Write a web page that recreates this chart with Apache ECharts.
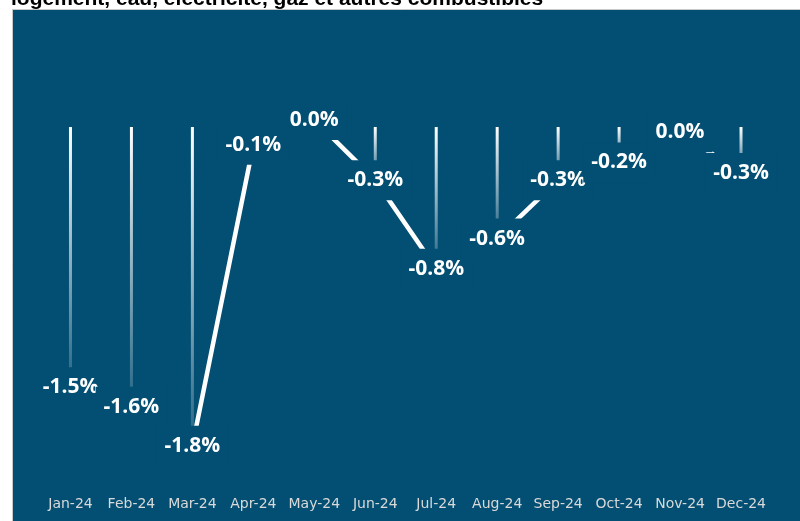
<!DOCTYPE html>
<html>
<head>
<meta charset="utf-8">
<script src="https://cdn.jsdelivr.net/npm/echarts@6/dist/echarts.min.js"></script>
<style>
  html, body { margin: 0; padding: 0; background: #fff; }
  #chart { width: 800px; height: 521px; }
</style>
</head>
<body>
<div id="chart"></div>
<script>
// ---- data ----
const months = ['Jan-24', 'Feb-24', 'Mar-24', 'Apr-24', 'May-24', 'Jun-24',
                'Jul-24', 'Aug-24', 'Sep-24', 'Oct-24', 'Nov-24', 'Dec-24']
const changes = [-1.47, -1.58, -1.80, -0.10, 0.04, -0.30,
                 -0.80, -0.63, -0.30, -0.20, -0.03, -0.26]
const titleText = 'logement, eau, électricité, gaz et autres combustibles'

// ---- style ----
const PANEL = '#034f73'

const chart = echarts.init(document.getElementById('chart'))

function fmt(v) {
  const r = Math.round(v * 10) / 10 || 0 // avoid "-0.0"
  return r.toFixed(1) + '%'
}

chart.setOption({
  animation: false,
  backgroundColor: '#fff',
  graphic: [
    {
      type: 'rect',
      z: -10,
      shape: { x: 12.5, y: 9.5, width: 800, height: 520 },
      style: { fill: PANEL, stroke: '#c9c9c9', lineWidth: 1 }
    }
  ],
  title: {
    text: titleText,
    left: 11,
    top: -11,
    padding: 0,
    textStyle: { fontFamily: 'Liberation Sans', fontSize: 21, fontWeight: 'bold', color: '#000' }
  },
  grid: { left: 40, right: 28.5, top: 91.6, bottom: 31 },
  xAxis: {
    type: 'category',
    data: months,
    axisLine: { show: false, onZero: false },
    axisTick: { show: false },
    axisLabel: {
      interval: 0,
      margin: 7,
      color: '#d9d9d9',
      fontFamily: 'DejaVu Sans',
      fontSize: 14
    }
  },
  yAxis: {
    type: 'value',
    min: -2.05,
    max: 0.2,
    show: false,
    splitLine: { show: false }
  },
  series: [
    {
      // drop lines: thin gradient bars from zero to the value
      name: 'drop',
      type: 'bar',
      barWidth: 3,
      z: 1,
      data: changes,
      itemStyle: {
        color: new echarts.graphic.LinearGradient(0, 0, 0, 1, [
          { offset: 0, color: 'rgba(255,255,255,1)' },
          { offset: 1, color: 'rgba(255,255,255,0.12)' }
        ])
      }
    },
    {
      name: 'change',
      type: 'line',
      z: 3,
      data: changes,
      symbol: 'circle',
      symbolSize: 0,
      lineStyle: { color: '#fff', width: 4.5 },
      itemStyle: { color: '#fff' },
      label: {
        show: true,
        position: 'inside',
        formatter: p => fmt(p.value),
        color: '#fff',
        fontFamily: 'Open Sans',
        fontWeight: 'bold',
        fontSize: 21,
        lineHeight: 21,
        backgroundColor: PANEL,
        padding: [12, 8, 7, 8]
      }
    }
  ]
})
</script>
</body>
</html>
